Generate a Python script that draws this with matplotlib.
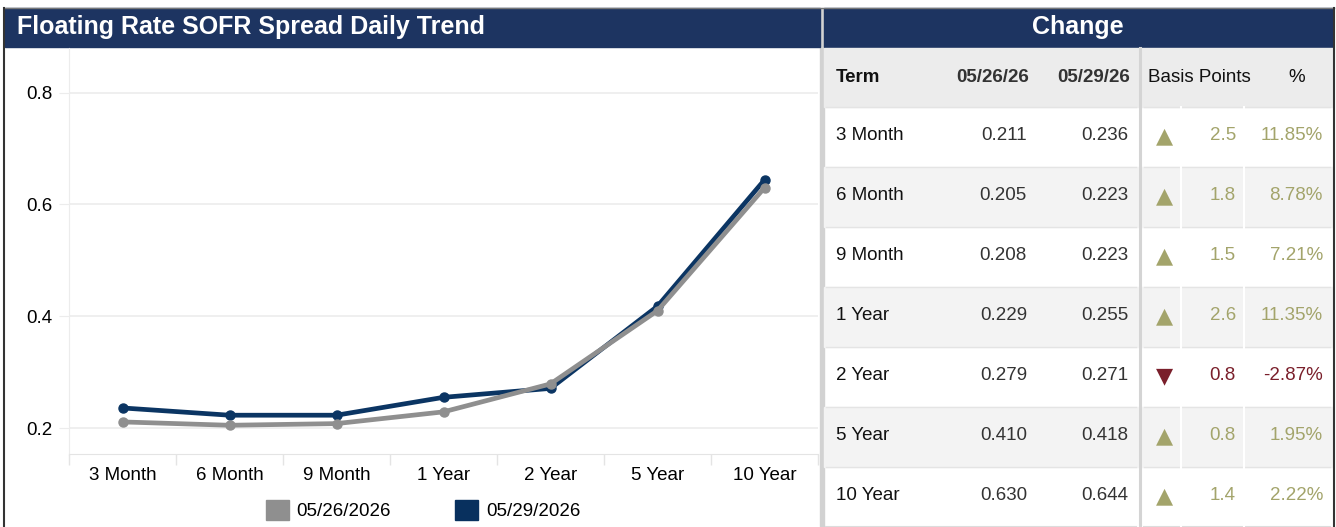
import matplotlib.pyplot as plt
from matplotlib.patches import Rectangle, Patch

plt.rcParams['font.family'] = ['Liberation Sans', 'DejaVu Sans']

# data
terms = ['3 Month', '6 Month', '9 Month', '1 Year', '2 Year', '5 Year', '10 Year']
rate_0526 = [0.211, 0.205, 0.208, 0.229, 0.279, 0.410, 0.630]
rate_0529 = [0.236, 0.223, 0.223, 0.255, 0.271, 0.418, 0.644]
bp_change = [2.5, 1.8, 1.5, 2.6, -0.8, 0.8, 1.4]
pct_change = [11.85, 8.78, 7.21, 11.35, -2.87, 1.95, 2.22]
y_ticks = [0.2, 0.4, 0.6, 0.8]

NAVY_BAR = '#1d3461'
NAVY = '#0b3563'
GRAY = '#8f8f8f'
UP = '#a3a46b'
DOWN = '#7a1f2b'
FS = 13.5

W, H = 1336, 527
fig = plt.figure(figsize=(W / 100, H / 100), dpi=100)

# background layer in pixel coordinates
bg = fig.add_axes([0, 0, 1, 1])
bg.set_xlim(0, W)
bg.set_ylim(H, 0)
bg.axis('off')

# panel frames and title bars
bg.plot([3.5, 1333.5], [7.5, 7.5], color='#777777', lw=1)
bg.plot([3.5, 3.5], [7.5, 527], color='#333333', lw=1.5)
bg.plot([1333.5, 1333.5], [7.5, 527], color='#333333', lw=1.5)
bg.add_patch(Rectangle((820, 8), 4, 519, color='#d2d2d2'))
bg.add_patch(Rectangle((5, 8), 815, 39, color=NAVY_BAR))
bg.add_patch(Rectangle((824, 8), 509, 39, color=NAVY_BAR))
bg.text(17, 27, 'Floating Rate SOFR Spread Daily Trend', color='white',
        fontsize=18, fontweight='bold', va='center', ha='left')
bg.text(1078, 27, 'Change', color='white', fontsize=18, fontweight='bold',
        va='center', ha='center')

# table
row_top = 107
row_h = 60
bg.add_patch(Rectangle((824, 48), 509, row_top - 48, color='#ececec'))
for i in range(len(terms)):
    y0 = row_top + i * row_h
    if i % 2 == 1:
        bg.add_patch(Rectangle((824, y0), 509, row_h, color='#f3f3f3'))
    bg.plot([826, 1136], [y0, y0], color='#e4e4e4', lw=1)
    bg.plot([1144, 1330], [y0, y0], color='#e4e4e4', lw=1)
bg.plot([826, 1136], [row_top + 7 * row_h, row_top + 7 * row_h], color='#dcdcdc', lw=1.5)
bg.plot([1144, 1330], [row_top + 7 * row_h, row_top + 7 * row_h], color='#dcdcdc', lw=1.5)
bg.plot([1140, 1140], [48, 527], color='#d4d4d4', lw=2.2)
for xs in (1181, 1244):
    bg.plot([xs, xs], [row_top, 527], color='white', lw=1.5)

hy = 77
bg.text(836, hy, 'Term', fontsize=FS, fontweight='bold', va='center', ha='left', color='#111111')
bg.text(1029, hy, '05/26/26', fontsize=FS, fontweight='bold', va='center', ha='right', color='#333333')
bg.text(1130, hy, '05/29/26', fontsize=FS, fontweight='bold', va='center', ha='right', color='#333333')
bg.text(1199, hy, 'Basis Points', fontsize=FS, va='center', ha='center', color='#111111')
bg.text(1297, hy, '%', fontsize=FS, va='center', ha='center', color='#111111')

for i, t in enumerate(terms):
    yc = row_top + i * row_h + 28
    bg.text(836, yc, t, fontsize=FS, va='center', ha='left', color='#111111')
    bg.text(1027, yc, f'{rate_0526[i]:.3f}', fontsize=FS, va='center', ha='right', color='#333333')
    bg.text(1128, yc, f'{rate_0529[i]:.3f}', fontsize=FS, va='center', ha='right', color='#333333')
    c = UP if bp_change[i] >= 0 else DOWN
    bg.text(1165, yc + 1, '▲' if bp_change[i] >= 0 else '▼', fontsize=16, va='center',
            ha='center', color=c, family='DejaVu Sans')
    bg.text(1236, yc, f'{abs(bp_change[i]):.1f}', fontsize=FS, va='center', ha='right', color=c)
    bg.text(1323, yc, f'{pct_change[i]:.2f}%', fontsize=FS, va='center', ha='right', color=c)

# line chart
ax = fig.add_axes([69 / W, (H - 454) / H, (818 - 69) / W, (454 - 48) / H])
x = range(len(terms))
ax.plot(x, rate_0529, color=NAVY, lw=3.4, marker='o', ms=6.5, solid_capstyle='round')
ax.plot(x, rate_0526, color=GRAY, lw=3.4, marker='o', ms=6.5, solid_capstyle='round')
ax.set_xlim(-0.5, len(terms) - 0.5)
ax.set_ylim(0.1536, 0.88)
ax.set_yticks(y_ticks)
ax.set_yticklabels([f'{v:.1f}' for v in y_ticks])
ax.grid(axis='y', color='#ececec', lw=1.2)
ax.set_axisbelow(True)
ax.set_xticks([i - 0.5 for i in range(len(terms) + 1)], minor=False)
ax.set_xticklabels([''] * (len(terms) + 1))
ax.set_xticks(list(x), minor=True)
ax.set_xticklabels(terms, minor=True, fontsize=FS)
ax.tick_params(axis='x', which='major', length=8, color='#e4e4e4', width=1)
ax.tick_params(axis='x', which='minor', length=0, pad=9)
ax.tick_params(axis='y', length=7, color='#ececec', labelsize=FS, pad=5)
for s in ('top', 'right'):
    ax.spines[s].set_visible(False)
ax.spines['left'].set_color('#ececec')
ax.spines['bottom'].set_color('#e4e4e4')
ax.patch.set_alpha(0)

handles = [Patch(color=GRAY, label='05/26/2026'), Patch(color='#08305e', label='05/29/2026')]
fig.legend(handles=handles, loc='center', bbox_to_anchor=(423 / W, 1 - 510 / H), ncol=2,
           frameon=False, fontsize=FS, handlelength=1.25, handleheight=1.25,
           handletextpad=0.4, columnspacing=3.4)

fig.savefig('out.png', dpi=100)
